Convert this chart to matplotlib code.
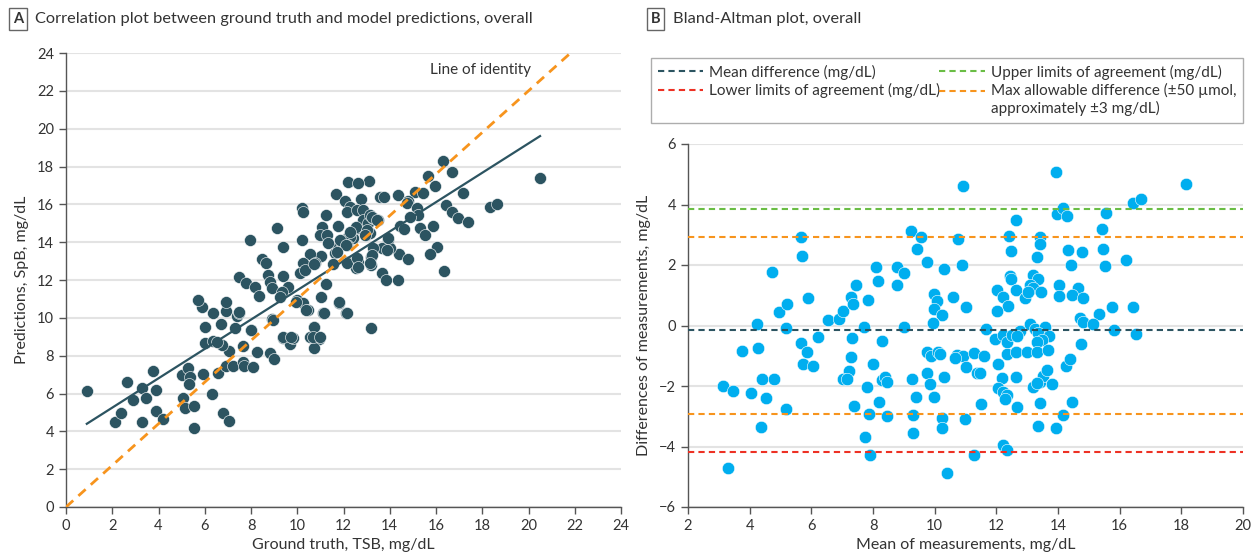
import matplotlib.pyplot as plt
import numpy as np
from matplotlib.legend_handler import HandlerLine2D

plt.rcParams['font.family'] = ['Lato', 'DejaVu Sans']
plt.rcParams['font.size'] = 10.5

# Panel A: ground truth TSB vs SpB predictions (mg/dL)
gt_pred = [
    (0.9, 6.15), (2.12, 4.51), (2.36, 4.95), (2.65, 6.62), (2.88, 5.66), (3.27, 4.51),
    (3.29, 6.27), (3.46, 5.78), (3.75, 7.19), (3.88, 6.18), (3.88, 5.09), (4.21, 4.63),
    (5.0, 6.98), (5.29, 7.33), (5.36, 6.89), (5.33, 6.5), (5.07, 5.74), (5.15, 5.22),
    (5.55, 5.34), (5.55, 4.16), (5.94, 7.03), (6.3, 5.97), (6.59, 7.1), (6.8, 4.95),
    (7.06, 4.56), (6.92, 7.45), (7.24, 7.45), (7.64, 7.68), (7.71, 7.45), (8.07, 7.42),
    (7.06, 8.26), (7.64, 8.51), (8.24, 8.18), (8.82, 8.12), (9.01, 7.81), (8.92, 9.92),
    (7.99, 9.36), (7.31, 9.45), (6.73, 8.56), (6.01, 8.65), (6.37, 8.79), (6.55, 8.7),
    (6.01, 9.53), (6.7, 9.67), (6.37, 10.24), (5.87, 10.55), (6.9, 10.38), (6.9, 10.85),
    (7.38, 10.1), (7.48, 10.24), (5.72, 10.94), (9.37, 8.91), (9.69, 8.6), (9.8, 8.91),
    (10.55, 8.97), (10.96, 8.88), (10.74, 8.39), (10.74, 9.53), (11.13, 10.24), (12.11, 10.24),
    (11.82, 10.8), (9.97, 10.94), (10.26, 10.77), (10.48, 10.41),
    (16.32, 18.3), (16.68, 17.72), (15.67, 17.49), (15.96, 16.97), (17.18, 16.58), (15.09, 16.67),
    (15.42, 16.61), (14.34, 16.49), (14.78, 16.18), (14.73, 16.05), (13.58, 16.4), (13.77, 16.4),
    (13.1, 17.25), (12.18, 17.2), (12.61, 17.14), (11.66, 16.53), (12.06, 16.17), (12.76, 16.26),
    (12.28, 15.87), (12.14, 15.61), (12.57, 15.7), (12.86, 15.7), (10.2, 15.79), (10.24, 15.61),
    (11.24, 15.44), (15.17, 15.79), (15.24, 15.43), (14.88, 15.34), (16.43, 15.96), (16.68, 15.61),
    (16.96, 15.26), (17.37, 15.05), (18.33, 15.84), (18.62, 16.01), (20.5, 17.4), (15.89, 14.87),
    (15.31, 14.76), (15.52, 14.38), (14.44, 14.87), (14.62, 14.68), (16.03, 13.76), (15.74, 13.37),
    (16.36, 12.49), (14.4, 13.37), (14.78, 13.11), (13.65, 12.35), (13.84, 12.0), (14.34, 12.0),
    (13.18, 9.48), (13.94, 14.11), (14.01, 13.67), (13.65, 13.67), (13.18, 13.23), (13.18, 12.79),
    (12.54, 12.62), (12.64, 12.97), (12.14, 12.97), (11.63, 13.41), (11.78, 13.76), (12.04, 14.11),
    (12.21, 14.29), (11.92, 13.94), (12.43, 14.2), (12.57, 14.73), (12.86, 15.17), (13.07, 15.0),
    (13.29, 15.26), (13.5, 15.17), (13.15, 15.43), (12.99, 14.38), (13.15, 14.47), (11.78, 14.85),
    (11.05, 14.82), (10.98, 14.38), (11.27, 14.38), (11.34, 13.94), (11.03, 13.27), (10.55, 13.37),
    (10.77, 12.88), (10.26, 12.88), (10.12, 12.35), (10.34, 12.53), (11.24, 11.79), (11.01, 11.12),
    (11.16, 10.27), (11.82, 10.85), (12.14, 10.27), (10.22, 14.11), (9.4, 13.76), (9.11, 14.76),
    (7.96, 14.11), (8.46, 13.09), (8.65, 12.91), (8.75, 12.26), (8.82, 11.91), (8.9, 11.56),
    (9.4, 12.23), (9.61, 11.64), (9.33, 11.38), (9.25, 11.12), (7.5, 12.14), (7.78, 11.86),
    (8.17, 11.64), (8.36, 11.15), (9.95, 10.85), (10.38, 10.41), (10.74, 9.5), (8.94, 9.88),
    (8.0, 9.36), (9.4, 8.97), (9.75, 8.97), (10.7, 8.97), (10.98, 8.97), (7.49, 10.32),
    (12.54, 14.82), (12.28, 14.29), (12.14, 13.85), (10.72, 12.84), (11.56, 12.84), (12.16, 12.91),
    (13.87, 13.59), (13.29, 13.67), (13.22, 13.32), (13.15, 12.88), (12.57, 13.14), (12.64, 12.7),
    (11.85, 14.11), (12.11, 13.85), (11.71, 13.5), (12.28, 14.55), (13.22, 15.34), (13.43, 15.17),
    (13.0, 14.64), (12.93, 14.38), (13.94, 14.2),
]
ground_truth = np.array([p[0] for p in gt_pred])
predictions = np.array([p[1] for p in gt_pred])

fit_slope = 0.776
fit_intercept = 3.70
identity_slope = 1.10  # as drawn in the reference

# Panel B: Bland-Altman (mean, difference), mg/dL
ba_points = [
    (3.15, -1.99), (3.47, -2.15), (3.29, -4.72), (3.74, -0.83), (4.28, -0.75), (4.39, -1.78),
    (4.03, -2.22), (4.53, -2.41), (4.37, -3.37), (4.8, -1.77), (5.18, -2.77), (5.18, -0.07),
    (4.25, 0.04), (4.96, 0.44), (5.22, 0.71), (4.71, 1.78), (5.66, 2.94), (5.69, 2.30),
    (5.9, 0.9), (6.21, -0.37), (6.55, 0.18), (6.9, 0.21), (7.04, 0.49), (7.28, 0.95),
    (7.34, 0.7), (7.44, 1.34), (7.85, 0.84), (7.72, -0.04), (8.09, 1.92), (8.15, 1.47),
    (8.77, 1.92), (9.01, 1.73), (8.79, 1.33), (9.23, 3.13), (9.55, 2.94), (9.42, 2.52),
    (9.75, 2.11), (10.29, 1.86), (9.98, 1.04), (10.09, 0.82), (9.98, 0.55), (10.23, 0.35),
    (9.96, 0.07), (9.01, -0.04), (10.61, 0.95), (11.02, 0.6), (10.77, 2.85), (10.9, 2.0),
    (10.93, 4.61), (5.67, -0.57), (5.87, -0.89), (5.72, -1.28), (6.04, -1.33), (7.33, -0.42),
    (7.28, -1.03), (7.23, -1.5), (7.04, -1.77), (7.15, -1.78), (7.38, -2.65), (7.8, -2.04),
    (7.99, -1.28), (8.28, -0.5), (8.2, -2.54), (7.88, -2.93), (7.74, -3.7), (7.9, -4.28),
    (8.28, -1.8), (8.39, -1.71), (8.46, -1.86), (8.44, -2.99), (9.28, -1.77), (9.39, -2.37),
    (9.31, -2.96), (9.31, -3.54), (9.74, -0.87), (9.87, -1.01), (10.12, -0.87), (10.17, -0.94),
    (9.76, -1.58), (9.85, -1.94), (9.98, -2.35), (10.3, -1.71), (10.23, -3.07), (10.23, -3.4),
    (10.41, -4.87), (10.72, -0.98), (10.91, -1.01), (10.66, -1.08), (11.26, -0.92), (11.01, -1.36),
    (11.36, -1.56), (10.98, -3.09), (11.29, -4.28), (11.5, -2.6), (11.67, -0.13), (13.92, 5.07),
    (18.15, 4.67), (16.42, 4.04), (16.68, 4.19), (13.96, 3.69), (14.17, 3.87), (14.3, 3.62),
    (15.57, 3.73), (12.65, 3.49), (12.41, 2.96), (13.4, 2.94), (13.42, 2.69), (12.48, 2.47),
    (13.33, 2.28), (15.43, 3.18), (15.47, 2.52), (14.33, 2.5), (14.78, 2.42), (14.41, 1.99),
    (15.53, 1.98), (16.2, 2.17), (12.44, 1.64), (12.49, 1.53), (12.03, 1.17), (12.23, 0.95),
    (12.39, 0.64), (12.03, 0.48), (12.65, 1.17), (12.93, 0.9), (13.18, 1.67), (13.36, 1.53),
    (13.09, 1.34), (13.2, 1.23), (13.44, 1.12), (13.04, 1.12), (14.03, 1.34), (14.04, 0.98),
    (14.66, 1.25), (14.45, 1.01), (14.81, 0.9), (15.74, 0.6), (16.44, 0.6), (14.7, 0.24),
    (14.81, 0.13), (15.34, 0.38), (15.15, 0.04), (15.83, -0.15), (16.53, -0.28), (11.96, -0.46),
    (12.23, -0.31), (12.36, -0.54), (12.5, -0.31), (12.77, -0.17), (12.66, -0.35), (13.09, 0.05),
    (13.26, -0.13), (13.58, -0.06), (13.36, -0.26), (13.72, -0.35), (13.47, -0.48), (13.31, -0.54),
    (12.36, -0.94), (12.64, -0.87), (13.01, -0.87), (13.33, -0.87), (13.66, -0.81), (12.06, -1.27),
    (12.17, -1.75), (12.65, -1.69), (12.06, -2.08), (12.23, -2.19), (12.33, -2.3), (12.28, -2.43),
    (12.23, -3.95), (12.33, -4.12), (12.68, -2.7), (13.2, -2.04), (13.42, -1.86), (13.52, -1.67),
    (13.63, -1.47), (13.8, -1.93), (13.31, -1.91), (13.42, -2.57), (13.36, -3.32), (13.94, -3.38),
    (14.16, -2.96), (14.45, -2.52), (14.26, -1.34), (14.39, -1.12), (14.74, -0.61), (11.6, -1.01),
    (11.47, -1.56),
]
ba_mean = np.array([p[0] for p in ba_points])
ba_diff = np.array([p[1] for p in ba_points])

mean_difference = -0.16
upper_loa = 3.86
lower_loa = -4.18
max_allowable = 2.92

DARK = '#2c5461'
BLUE = '#00aeef'
ORANGE = '#f7941d'
GREEN = '#6abd45'
RED = '#ed3124'
GRID = '#e3e3e3'
TEXT = '#333333'


class FirstLineHandler(HandlerLine2D):
    """Legend line that sits on the first line of a two-line label."""

    def create_artists(self, legend, orig_handle, xdescent, ydescent, width, height, fontsize, trans):
        artists = super().create_artists(legend, orig_handle, xdescent, ydescent,
                                         width, height, fontsize, trans)
        for a in artists:
            a.set_ydata(np.asarray(a.get_ydata()) + 0.6 * fontsize)
        return artists


def style_axes(ax):
    for side in ['top', 'right']:
        ax.spines[side].set_visible(False)
    for side in ['left', 'bottom']:
        ax.spines[side].set_color('#555555')
        ax.spines[side].set_linewidth(1.0)
    ax.tick_params(colors='#555555', labelcolor=TEXT, length=5, width=1.0, labelsize=10.5)
    ax.yaxis.grid(True, color=GRID, linewidth=1.5)
    ax.set_axisbelow(True)


fig = plt.figure(figsize=(12.56, 5.59), dpi=100)

# ---- Panel A
axA = fig.add_axes([66 / 1256, 52 / 559, 555 / 1256, 454 / 559])
style_axes(axA)
axA.scatter(ground_truth, predictions, s=75, color=DARK, edgecolors='white', linewidths=0.4, zorder=3)
xf = np.array([ground_truth.min(), ground_truth.max()])
axA.plot(xf, fit_intercept + fit_slope * xf, color=DARK, linewidth=1.6, zorder=4)
xi = np.array([0, 24 / identity_slope])
axA.plot(xi, identity_slope * xi, color=ORANGE, linewidth=2, linestyle=(0, (3.5, 2.5)), zorder=5)
axA.text(15.75, 23.1, 'Line of identity', color=TEXT, fontsize=11, va='center')
axA.set_xlim(0, 24)
axA.set_ylim(0, 24)
axA.set_xticks(np.arange(0, 25, 2))
axA.set_yticks(np.arange(0, 25, 2))
axA.set_xlabel('Ground truth, TSB, mg/dL', color=TEXT, fontsize=11.5, labelpad=4)
axA.set_ylabel('Predictions, SpB, mg/dL', color=TEXT, fontsize=11.5, labelpad=6)

# ---- Panel B
axB = fig.add_axes([688 / 1256, 52 / 559, 555 / 1256, 363 / 559])
style_axes(axB)
axB.scatter(ba_mean, ba_diff, s=80, color=BLUE, edgecolors='white', linewidths=0.4, zorder=3)
dash = (0, (3, 2))
h_mean = axB.axhline(mean_difference, color=DARK, linewidth=1.5, linestyle=dash, zorder=4)
h_up = axB.axhline(upper_loa, color=GREEN, linewidth=1.5, linestyle=dash, zorder=4)
h_low = axB.axhline(lower_loa, color=RED, linewidth=1.5, linestyle=dash, zorder=4)
h_max = axB.axhline(max_allowable, color=ORANGE, linewidth=1.5, linestyle=dash, zorder=4)
axB.axhline(-max_allowable, color=ORANGE, linewidth=1.5, linestyle=dash, zorder=4)
axB.set_xlim(2, 20)
axB.set_ylim(-6, 6)
axB.set_xticks(np.arange(2, 21, 2))
axB.set_yticks(np.arange(-6, 7, 2))
axB.set_xlabel('Mean of measurements, mg/dL', color=TEXT, fontsize=11.5, labelpad=4)
axB.set_ylabel('Differences of measurements, mg/dL', color=TEXT, fontsize=11.5, labelpad=6)

leg = fig.legend(
    [h_mean, h_low, h_up, h_max],
    ['Mean difference (mg/dL)', 'Lower limits of agreement (mg/dL)',
     'Upper limits of agreement (mg/dL)',
     'Max allowable difference (±50 µmol,\napproximately ±3 mg/dL)'],
    ncol=2, loc='upper left', mode='expand',
    bbox_to_anchor=(643 / 1256, 1 - 124 / 559, 608 / 1256, 74 / 559),
    frameon=True, fancybox=False, edgecolor='#999999', fontsize=11,
    handlelength=3.0, handletextpad=0.4, columnspacing=1.0, borderpad=0.45,
    labelspacing=0.25, alignment='left',
    handler_map={h_max: FirstLineHandler()},
)
leg.get_frame().set_linewidth(1.0)
for t in leg.get_texts():
    t.set_color(TEXT)

# ---- Panel titles
box = dict(boxstyle='square,pad=0.25', facecolor='white', edgecolor='#666666', linewidth=1)
fig.text(13 / 1256, 1 - 19 / 559, 'A', fontsize=10.5, fontweight='bold', color=TEXT, va='center', bbox=box)
fig.text(35 / 1256, 1 - 19 / 559, 'Correlation plot between ground truth and model predictions, overall',
         fontsize=11.8, color=TEXT, va='center')
fig.text(651 / 1256, 1 - 19 / 559, 'B', fontsize=10.5, fontweight='bold', color=TEXT, va='center', bbox=box)
fig.text(673 / 1256, 1 - 19 / 559, 'Bland-Altman plot, overall',
         fontsize=11.8, color=TEXT, va='center')

fig.savefig('out.png', dpi=100)
